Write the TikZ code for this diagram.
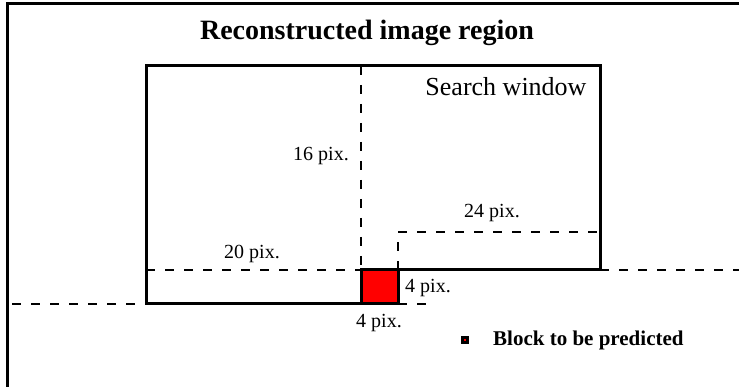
\documentclass[tikz,border=0pt]{standalone}
\usepackage{fontspec}
\setmainfont{Liberation Serif}
\usetikzlibrary{positioning}

\tikzset{
  wall/.style={line width=3pt},
  guide/.style={line width=2.6pt,dash pattern=on 9pt off 10pt},
  lbl/.style={font=\fontsize{20}{24}\selectfont,inner sep=0pt},
}

\begin{document}
\begin{tikzpicture}[x=1pt,y=-1pt]
\useasboundingbox (0,0) rectangle (739,387);
% frame of the reconstructed region
\draw[wall] (7,390) -- (7,4) -- (742,4);
\node[font=\bfseries\fontsize{28}{32}\selectfont,inner sep=0pt] (title) at (367,33) {Reconstructed image region};

% search window corners
\coordinate (tl) at (146,66);
\coordinate (tr) at (600,66);
\coordinate (br) at (600,270);
\coordinate (bl) at (146,304);
\coordinate (bkne) at (398,270);
\coordinate (bksw) at (361,304);
\coordinate (bknw) at (361,270);
\coordinate (bkse) at (398,304);
\coordinate (vtop) at (361,66);
\coordinate (stepl) at (398,232);
\coordinate (stepr) at (600,232);
\coordinate (farl) at (12,304);
\coordinate (farr) at (739,270);
\coordinate (nearr) at (428,304);

\draw[guide] (vtop) -- (bknw);
\draw[guide] (tl |- bknw) -- (bknw);
\draw[guide] (bkne) -- (stepl) -- (stepr);
\draw[guide] (farl) -- (bl);
\draw[guide] (br) -- (farr);
\draw[guide] (bkse) -- (nearr);

\draw[wall,line join=miter] (bksw) -- (bl) -- (tl) -- (tr) -- (br) -- (bkne);
\draw[wall,fill=red] (bknw) rectangle (bkse);

\node[font=\fontsize{26}{30}\selectfont,inner sep=0pt] (sw) at (506,87) {Search window};
\node[lbl,anchor=east] (h16) at (349,156) {16 pix.};
\node[lbl] (w24) at (492,213) {24 pix.};
\node[lbl] (w20) at (252,254) {20 pix.};
\node[lbl] (h4) at (428,288) {4 pix.};
\node[lbl] (w4) at (379,323) {4 pix.};

% legend
\node[draw=black,fill=red,line width=2.5pt,minimum size=5pt,inner sep=0pt] (key) at (465,340) {};
\node[font=\bfseries\fontsize{21}{25}\selectfont,inner sep=0pt,anchor=west] (keytext) at (493,340) {Block to be predicted};
\end{tikzpicture}
\end{document}
